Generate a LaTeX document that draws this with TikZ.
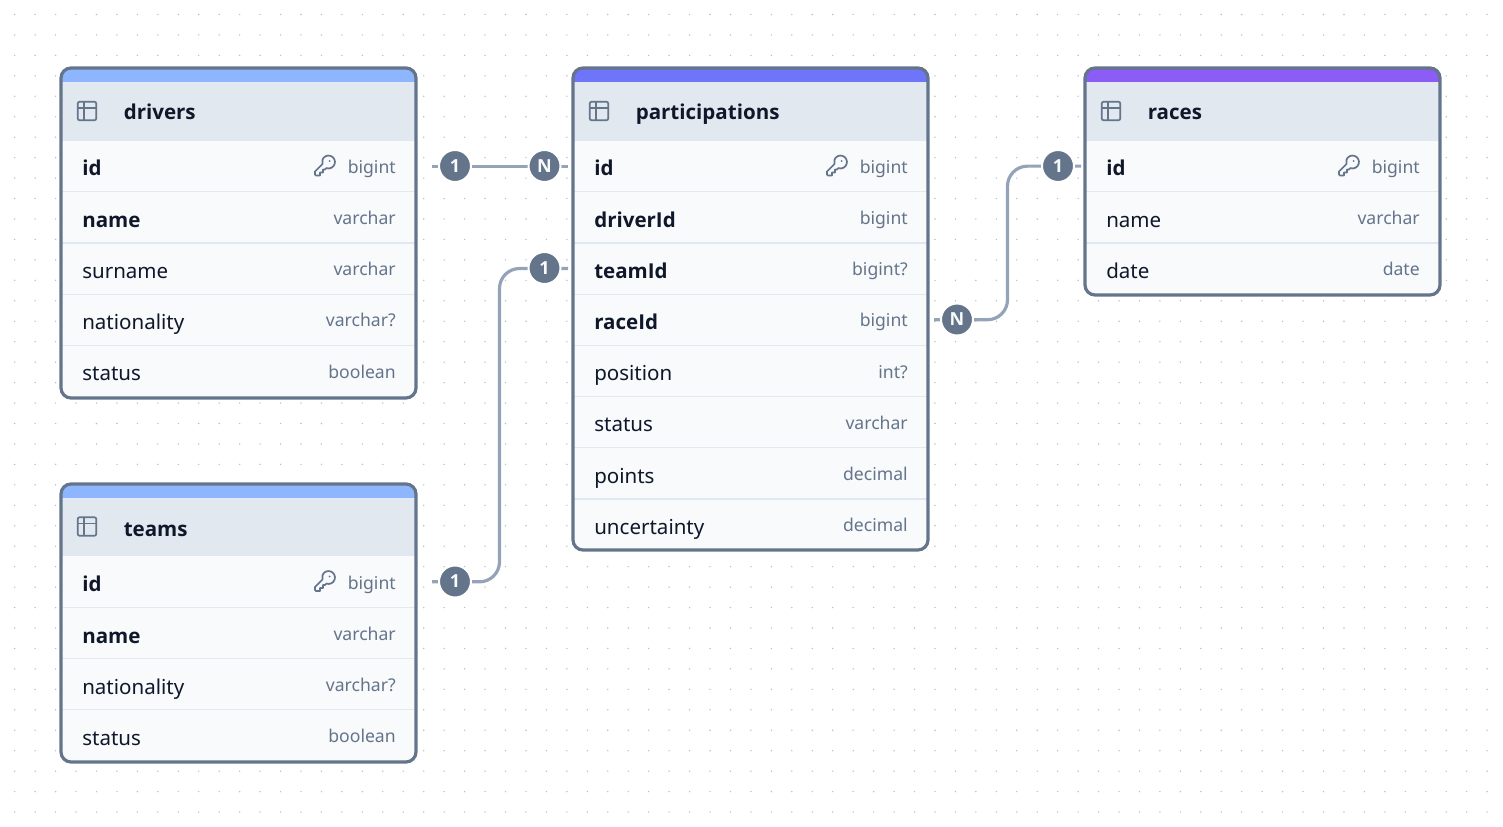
\documentclass[tikz,border=0pt]{standalone}
\usepackage{fontspec}
\setmainfont{Noto Sans}[BoldFont={Open Sans Bold}]
\usepackage{tikz}
\usetikzlibrary{%
  positioning,%
  calc%
}
\definecolor{frameC}{HTML}{64748B}
\definecolor{headC}{HTML}{E2E8F0}
\definecolor{rowC}{HTML}{F8FAFC}
\definecolor{inkC}{HTML}{0F172A}
\definecolor{linkC}{HTML}{94A3B8}
\definecolor{dotC}{HTML}{B8C0CC}
\definecolor{blueC}{HTML}{8DB6FF}
\definecolor{indigoC}{HTML}{6F75F8}
\definecolor{violetC}{HTML}{8B5CF6}
\tikzset{
  band/.style={fill=#1, minimum width=266.25pt, minimum height=12pt, inner sep=0pt},
  headbox/.style={fill=headC, minimum width=266.25pt, minimum height=44pt, inner sep=0pt, outer sep=0pt},
  headtext/.style={text=inkC, font=\fontsize{15.4pt}{18pt}\selectfont\bfseries, inner sep=0pt, anchor=base west},
  rowbox/.style={fill=rowC, minimum width=266.25pt, minimum height=38.4pt, inner sep=0pt, outer sep=0pt},
  rowname/.style={text=inkC, font=\fontsize{15.4pt}{18pt}\selectfont, inner sep=0pt, anchor=base west},
  keyname/.style={rowname, font=\fontsize{15.4pt}{18pt}\selectfont\bfseries},
  rowtype/.style={text=frameC, font=\fontsize{13.2pt}{16pt}\selectfont, inner sep=0pt, anchor=base east},
  rowline/.style={draw=headC, line width=0.9pt},
  tableframe/.style={draw=frameC, line width=2.4pt, rounded corners=7.5pt, minimum width=266.25pt, inner sep=0pt},
  link/.style={draw=linkC, line width=2.4pt, rounded corners=15pt},
  badge/.style={circle, fill=frameC, draw=white, line width=1.5pt, minimum size=24pt, inner sep=0pt,
    text=rowC, font=\fontsize{13.5pt}{14pt}\selectfont\bfseries},
  griddot/.style={fill=dotC, draw=none},
  tableicon/.pic={
    \draw[frameC, line width=1.3pt, rounded corners=1.5pt] (-9.3,-9.3) rectangle (9.3,9.3);
    \draw[frameC, line width=1.3pt] (-9.3,-3) -- (9.3,-3) (-3,-9.3) -- (-3,9.3);
  },
  keyicon/.pic={
    \draw[frameC, line width=1.3pt, line join=round]
      (-10,6) -- (-10,9) -- (-9,10) -- (-5,10) -- (-5,7) -- (-2,7) -- (-2,4) -- (0,4) -- (1.4,2.6)
      arc (109:-199:6.45) -- cycle;
    \fill[frameC] (4.5,-4.5) circle (1);
  }
}
\begin{document}
\begin{tikzpicture}[x=0.75pt,y=-0.75pt]
  \useasboundingbox (0,0) rectangle (1503,827);
  % dotted canvas
  \foreach \i in {0,...,72}
    \foreach \j in {0,...,39}
      \fill[griddot] (14.7+20.45*\i,14.5+20.45*\j) circle (0.8);

  % drivers
  \begin{scope}
    \clip[rounded corners=7.5pt] (61,68) rectangle (416,398);
    \node[band=blueC] (drivers_band) at (238.5,75.5) {};
    \node[headbox] (drivers_head) at (238.5,111.2) {};
    \node[rowbox] (drivers_id) [below=0pt of drivers_head] {};
    \node[rowbox] (drivers_name) [below=0pt of drivers_id] {};
    \node[rowbox] (drivers_surname) [below=0pt of drivers_name] {};
    \node[rowbox] (drivers_nationality) [below=0pt of drivers_surname] {};
    \node[rowbox] (drivers_status) [below=0pt of drivers_nationality] {};
  \end{scope}
  \draw[rowline] (drivers_id.south west) -- (drivers_id.south east);
  \draw[rowline] (drivers_name.south west) -- (drivers_name.south east);
  \draw[rowline] (drivers_surname.south west) -- (drivers_surname.south east);
  \draw[rowline] (drivers_nationality.south west) -- (drivers_nationality.south east);
  \node[tableframe, minimum height=247.5pt] (drivers) at (238.5,233) {};
  \pic at (87,111) {tableicon};
  \node[headtext] (drivers_title) at (123.5,120) {drivers};
  \pic at (325,165.5) {keyicon};
  \node[keyname] (drivers_id_n) at (82,176) {id};
  \node[rowtype] (drivers_id_t) at (396,174) {bigint};
  \node[keyname] (drivers_name_n) at (82,227.5) {name};
  \node[rowtype] (drivers_name_t) at (396,225) {varchar};
  \node[rowname] (drivers_surname_n) at (82,278.5) {surname};
  \node[rowtype] (drivers_surname_t) at (396,276) {varchar};
  \node[rowname] (drivers_nationality_n) at (82,329.5) {nationality};
  \node[rowtype] (drivers_nationality_t) at (396,327) {varchar?};
  \node[rowname] (drivers_status_n) at (82,380.5) {status};
  \node[rowtype] (drivers_status_t) at (396,378.5) {boolean};

  % teams
  \begin{scope}
    \clip[rounded corners=7.5pt] (61,484) rectangle (416,762);
    \node[band=blueC] (teams_band) at (238.5,491.5) {};
    \node[headbox] (teams_head) at (238.5,526.9) {};
    \node[rowbox] (teams_id) [below=0pt of teams_head] {};
    \node[rowbox] (teams_name) [below=0pt of teams_id] {};
    \node[rowbox] (teams_nationality) [below=0pt of teams_name] {};
    \node[rowbox] (teams_status) [below=0pt of teams_nationality] {};
  \end{scope}
  \draw[rowline] (teams_id.south west) -- (teams_id.south east);
  \draw[rowline] (teams_name.south west) -- (teams_name.south east);
  \draw[rowline] (teams_nationality.south west) -- (teams_nationality.south east);
  \node[tableframe, minimum height=208.5pt] (teams) at (238.5,623) {};
  \pic at (87,526.5) {tableicon};
  \node[headtext] (teams_title) at (123.5,536) {teams};
  \pic at (325,581) {keyicon};
  \node[keyname] (teams_id_n) at (82,591) {id};
  \node[rowtype] (teams_id_t) at (396,589) {bigint};
  \node[keyname] (teams_name_n) at (82,643.5) {name};
  \node[rowtype] (teams_name_t) at (396,640.5) {varchar};
  \node[rowname] (teams_nationality_n) at (82,694.5) {nationality};
  \node[rowtype] (teams_nationality_t) at (396,691.5) {varchar?};
  \node[rowname] (teams_status_n) at (82,745.5) {status};
  \node[rowtype] (teams_status_t) at (396,742.5) {boolean};

  % participations
  \begin{scope}
    \clip[rounded corners=7.5pt] (573,68) rectangle (928,550);
    \node[band=indigoC] (part_band) at (750.5,75.5) {};
    \node[headbox] (part_head) at (750.5,111.2) {};
    \node[rowbox] (part_id) [below=0pt of part_head] {};
    \node[rowbox] (part_driverId) [below=0pt of part_id] {};
    \node[rowbox] (part_teamId) [below=0pt of part_driverId] {};
    \node[rowbox] (part_raceId) [below=0pt of part_teamId] {};
    \node[rowbox] (part_position) [below=0pt of part_raceId] {};
    \node[rowbox] (part_status) [below=0pt of part_position] {};
    \node[rowbox] (part_points) [below=0pt of part_status] {};
    \node[rowbox] (part_uncertainty) [below=0pt of part_points] {};
  \end{scope}
  \draw[rowline] (part_id.south west) -- (part_id.south east);
  \draw[rowline] (part_driverId.south west) -- (part_driverId.south east);
  \draw[rowline] (part_teamId.south west) -- (part_teamId.south east);
  \draw[rowline] (part_raceId.south west) -- (part_raceId.south east);
  \draw[rowline] (part_position.south west) -- (part_position.south east);
  \draw[rowline] (part_status.south west) -- (part_status.south east);
  \draw[rowline] (part_points.south west) -- (part_points.south east);
  \node[tableframe, minimum height=361.5pt] (part) at (750.5,309) {};
  \pic at (599,111) {tableicon};
  \node[headtext] (part_title) at (635.5,120) {participations};
  \pic at (837,165.5) {keyicon};
  \node[keyname] (part_id_n) at (594,176) {id};
  \node[rowtype] (part_id_t) at (908,174) {bigint};
  \node[keyname] (part_driverId_n) at (594,227.5) {driverId};
  \node[rowtype] (part_driverId_t) at (908,225) {bigint};
  \node[keyname] (part_teamId_n) at (594,278.5) {teamId};
  \node[rowtype] (part_teamId_t) at (908,276) {bigint?};
  \node[keyname] (part_raceId_n) at (594,329.5) {raceId};
  \node[rowtype] (part_raceId_t) at (908,327) {bigint};
  \node[rowname] (part_position_n) at (594,380.5) {position};
  \node[rowtype] (part_position_t) at (908,378.5) {int?};
  \node[rowname] (part_status_n) at (594,431.5) {status};
  \node[rowtype] (part_status_t) at (908,429.5) {varchar};
  \node[rowname] (part_points_n) at (594,483.5) {points};
  \node[rowtype] (part_points_t) at (908,480.5) {decimal};
  \node[rowname] (part_uncertainty_n) at (594,534.5) {uncertainty};
  \node[rowtype] (part_uncertainty_t) at (908,531.5) {decimal};

  % races
  \begin{scope}
    \clip[rounded corners=7.5pt] (1085,68) rectangle (1440,295);
    \node[band=violetC] (races_band) at (1262.5,75.5) {};
    \node[headbox] (races_head) at (1262.5,111.2) {};
    \node[rowbox] (races_id) [below=0pt of races_head] {};
    \node[rowbox] (races_name) [below=0pt of races_id] {};
    \node[rowbox] (races_date) [below=0pt of races_name] {};
  \end{scope}
  \draw[rowline] (races_id.south west) -- (races_id.south east);
  \draw[rowline] (races_name.south west) -- (races_name.south east);
  \node[tableframe, minimum height=170.25pt] (races) at (1262.5,181.5) {};
  \pic at (1111,111) {tableicon};
  \node[headtext] (races_title) at (1147.5,120) {races};
  \pic at (1349,165.5) {keyicon};
  \node[keyname] (races_id_n) at (1106,176) {id};
  \node[rowtype] (races_id_t) at (1420,174) {bigint};
  \node[rowname] (races_name_n) at (1106,227.5) {name};
  \node[rowtype] (races_name_t) at (1420,225) {varchar};
  \node[rowname] (races_date_n) at (1106,278.5) {date};
  \node[rowtype] (races_date_t) at (1420,276) {date};

  % relations
  \coordinate (turn_teams) at (499.5,400);
  \coordinate (turn_races) at (1007.5,240);
  \draw[link, shorten <=12pt, shorten >=3.75pt] (drivers_id.east) -- (part_id.west);
  \draw[link, shorten <=12pt, shorten >=3.75pt] (teams_id.east) -| (turn_teams) |- (part_teamId.west);
  \draw[link, shorten <=4.5pt, shorten >=3pt] (part_raceId.east) -| (turn_races) |- (races_id.west);

  \node[badge] (one_drivers) at (455,166) {1};
  \node[badge] (n_part_id) at (544.5,166) {N};
  \node[badge] (one_teams) at (455,581.5) {1};
  \node[badge] (one_part_team) at (544.5,268) {1};
  \node[badge] (n_part_race) at (957,319.5) {N};
  \node[badge] (one_races) at (1058,166) {1};
\end{tikzpicture}
\end{document}
